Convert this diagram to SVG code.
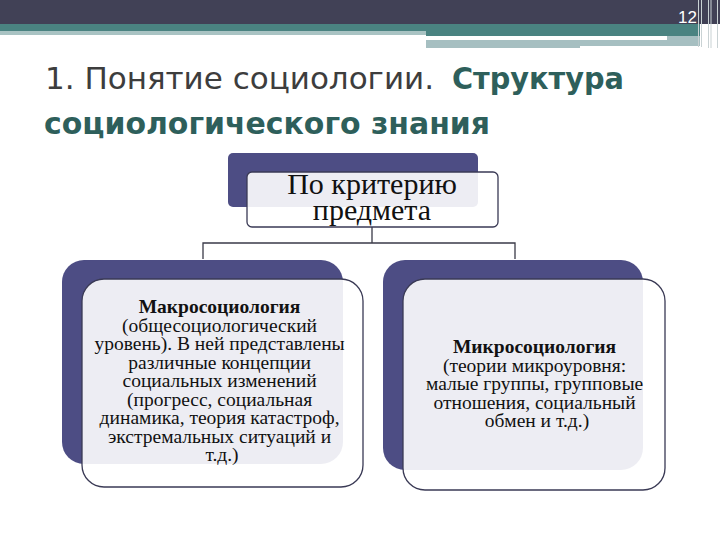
<svg xmlns="http://www.w3.org/2000/svg" width="720" height="540" viewBox="0 0 720 540">
<style>
.back{fill:#4d4d84}
.front{fill:#ffffff;fill-opacity:0.9;stroke:#3a3a55;stroke-width:1.3}
.conn{fill:none;stroke:#3a3a48;stroke-width:1.3}
.ser{font-family:"Liberation Serif","Times New Roman",serif;fill:#111;text-anchor:middle}
.t1{font-family:"DejaVu Sans Condensed","Liberation Sans Narrow","Liberation Sans",sans-serif;font-size:30px}
.vl{stroke:#c9d2d4;stroke-width:1}
</style>
<rect width="720" height="540" fill="#ffffff"/>
<g id="header">
<rect x="0" y="0" width="720" height="24" fill="#414156"/>
<rect x="0" y="24" width="426" height="8" fill="#4a8381"/>
<rect x="0" y="31" width="426" height="4" fill="#a9c3c3"/>
<rect x="426" y="24" width="274" height="12" fill="#4a8381"/>
<rect x="426" y="40" width="154" height="8" fill="#a6bfc1"/>
<rect x="580" y="40" width="87" height="6" fill="#a6bfc1"/>
<rect x="667" y="36" width="33" height="10" fill="#a6bfc1"/>
<line class="vl" x1="698.5" y1="0" x2="698.5" y2="47"/>
<line class="vl" x1="701.5" y1="0" x2="701.5" y2="47"/>
<line class="vl" x1="708.5" y1="0" x2="708.5" y2="48"/>
<line class="vl" x1="711" y1="0" x2="711" y2="48"/>
<line class="vl" x1="717.5" y1="0" x2="717.5" y2="48"/>
<text x="697" y="23" font-family="Liberation Sans,Arial,sans-serif" font-size="17" fill="#ffffff" text-anchor="end">12</text>
</g>
<g id="title">
<text class="t1" x="45" y="89" fill="#3d3d3d" textLength="389" lengthAdjust="spacingAndGlyphs">1. Понятие социологии.</text>
<text class="t1" x="452" y="89" fill="#2e5f5b" font-weight="bold" textLength="172" lengthAdjust="spacingAndGlyphs">Структура</text>
<text class="t1" x="44" y="134" fill="#2e5f5b" font-weight="bold" textLength="446" lengthAdjust="spacingAndGlyphs">социологического знания</text>
</g>
<g id="connectors">
<path class="conn" d="M372 227V243M203 259V243H515V259"/>
</g>
<g id="node-top">
<rect class="back" x="228" y="153" width="250" height="54" rx="5"/>
<rect class="front" x="247" y="172" width="251" height="55" rx="5"/>
<text class="ser" x="372" y="194" font-size="30">По критерию</text>
<text class="ser" x="372" y="220" font-size="30">предмета</text>
</g>
<g id="node-macro">
<rect class="back" x="62" y="260" width="281" height="204" rx="22"/>
<rect class="front" x="82" y="279" width="281" height="208" rx="22"/>
<text class="ser" x="222" font-size="19.5">
<tspan x="222" y="313" font-weight="bold">Макросоциология</tspan>
<tspan x="222" y="331.5">(общесоциологический</tspan>
<tspan x="222" y="350">уровень). В ней представлены</tspan>
<tspan x="222" y="368.5">различные концепции</tspan>
<tspan x="222" y="387">социальных изменений</tspan>
<tspan x="222" y="405.5">(прогресс, социальная</tspan>
<tspan x="222" y="424">динамика, теория катастроф,</tspan>
<tspan x="222" y="442.5">экстремальных ситуаций и</tspan>
<tspan x="222" y="461">т.д.)</tspan>
</text>
</g>
<g id="node-micro">
<rect class="back" x="383" y="260" width="260" height="210" rx="22"/>
<rect class="front" x="403" y="279" width="262" height="211" rx="22"/>
<text class="ser" x="537" font-size="19.5">
<tspan x="537" y="353" font-weight="bold">Микросоциология</tspan>
<tspan x="537" y="371.5">(теории микроуровня:</tspan>
<tspan x="537" y="390">малые группы, групповые</tspan>
<tspan x="537" y="408.5">отношения, социальный</tspan>
<tspan x="537" y="427">обмен и т.д.)</tspan>
</text>
</g>
</svg>
